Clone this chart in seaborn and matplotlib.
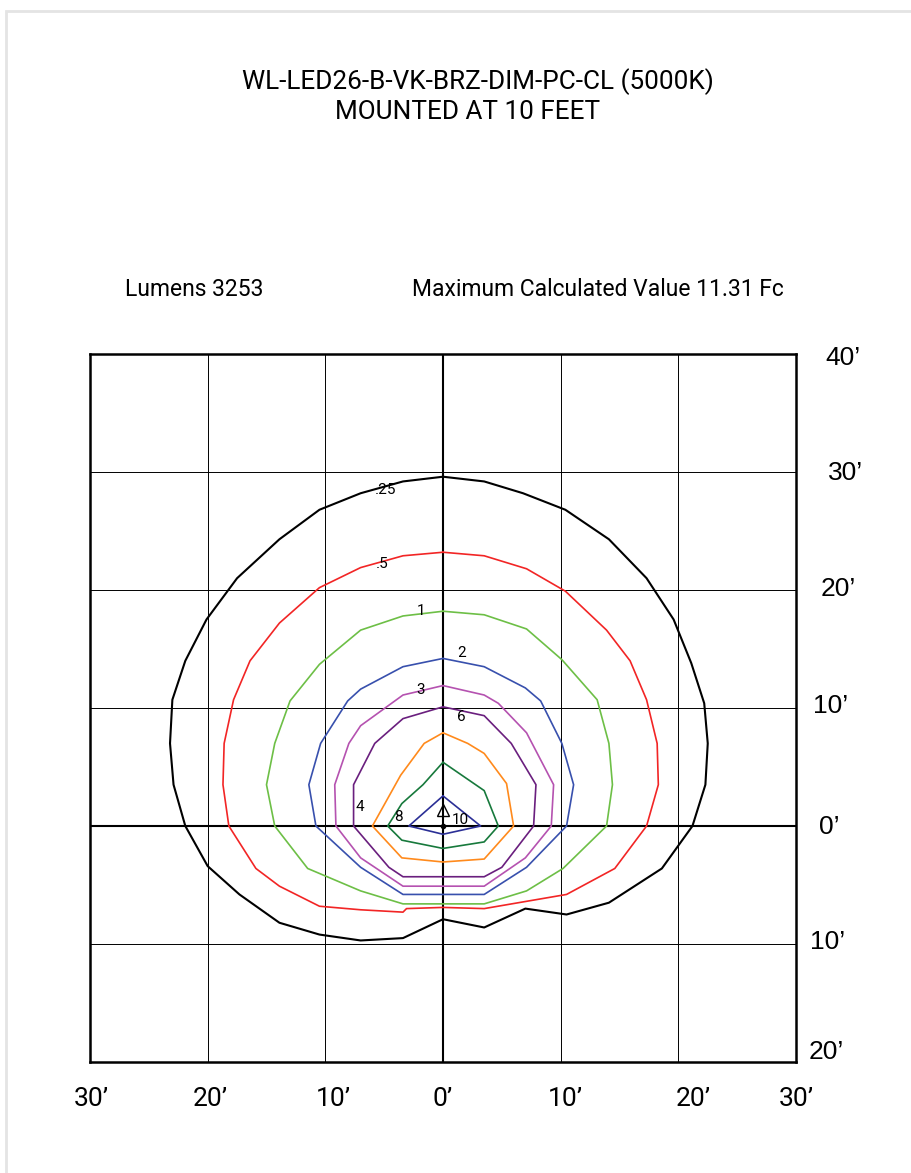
import numpy as np
import pandas as pd
import matplotlib
matplotlib.use("Agg")
import matplotlib.pyplot as plt
import matplotlib.patches as mpatches
import seaborn as sns

sns.set_style("white")
plt.rcParams['font.family'] = ['Roboto', 'DejaVu Sans']
plt.rcParams['text.color'] = 'black'

# ---------------- data ----------------
title_lines = ["WL-LED26-B-VK-BRZ-DIM-PC-CL (5000K)", "MOUNTED AT 10 FEET"]
lumens_text = "Lumens 3253"
max_text = "Maximum Calculated Value 11.31 Fc"

levels = ["0.25", "0.5", "1", "2", "3", "4", "6", "8", "10"]
level_labels = [".25", ".5", "1", "2", "3", "4", "6", "8", "10"]

iso_025_x = [0, 3.5, 6.8, 10.4, 14.1, 17.3, 19.6, 21.1, 22.2, 22.5, 22.3, 21.2, 18.6, 14.1,
             10.5, 7.0, 3.5, 0, -3.4, -7.0, -10.5, -13.9, -17.3, -20.0, -21.9, -22.9, -23.2,
             -23.0, -21.9, -20.1, -17.5, -13.9, -10.5, -7.0, -3.4]
iso_025_y = [29.6, 29.2, 28.2, 26.8, 24.3, 21.0, 17.5, 13.8, 10.4, 7.0, 3.5, 0.0, -3.6, -6.5,
             -7.5, -7.0, -8.6, -7.9, -9.5, -9.7, -9.2, -8.2, -5.8, -3.4, 0.0, 3.5, 7.0,
             10.7, 14.0, 17.5, 21.0, 24.3, 26.8, 28.2, 29.2]

iso_05_x = [0, 3.5, 7.1, 10.4, 13.9, 15.9, 17.3, 18.2, 18.3, 17.3, 14.6, 10.5, 7.0, 3.5, 0,
            -3.1, -3.4, -7.0, -10.5, -13.9, -15.9, -18.2, -18.7, -18.6, -17.8, -16.4, -13.9,
            -10.5, -7.0, -3.4]
iso_05_y = [23.2, 22.9, 21.8, 19.9, 16.6, 14.0, 10.7, 7.0, 3.5, 0.0, -3.6, -5.8, -6.4, -7.0,
            -6.9, -7.0, -7.3, -7.1, -6.8, -5.1, -3.6, 0.0, 3.5, 7.0, 10.7, 14.0, 17.2,
            20.2, 21.9, 22.9]

iso_1_x = [0, 3.5, 7.1, 10.1, 13.1, 14.1, 14.4, 13.9, 10.2, 7.1, 3.5, 0, -3.4, -7.0, -11.5,
           -14.3, -15.0, -14.3, -13.0, -10.5, -7.0, -3.4]
iso_1_y = [18.2, 17.9, 16.7, 14.1, 10.7, 7.0, 3.5, 0.0, -3.6, -5.5, -6.6, -6.6, -6.6, -5.5, -3.6,
           0.0, 3.5, 7.0, 10.6, 13.7, 16.6, 17.8]

iso_2_x = [0, 3.5, 7.0, 8.3, 10.1, 11.1, 10.5, 7.1, 3.5, 0, -3.4, -7.0, -10.8, -11.4, -10.4,
           -8.1, -7.0, -3.4]
iso_2_y = [14.2, 13.5, 11.7, 10.6, 7.0, 3.5, 0.0, -3.5, -5.8, -5.8, -5.8, -3.5, 0.0, 3.5, 7.0,
           10.6, 11.6, 13.5]

iso_3_x = [0, 3.5, 4.7, 7.1, 9.4, 9.2, 7.0, 3.5, 0, -3.4, -7.0, -9.1, -9.2, -8.0, -7.0, -3.4]
iso_3_y = [11.9, 11.1, 10.4, 7.9, 3.5, 0.0, -2.7, -5.1, -5.1, -5.1, -2.7, 0.0, 3.5, 7.0, 8.5, 11.1]

iso_4_x = [0, 3.5, 5.8, 7.9, 7.7, 5.0, 3.5, 0, -3.4, -4.6, -7.6, -7.6, -5.8, -3.4]
iso_4_y = [10.1, 9.35, 7.0, 3.5, 0.0, -3.5, -4.3, -4.3, -4.3, -3.5, 0.0, 3.5, 7.0, 9.1]

iso_6_x = [0, 2.1, 3.5, 5.4, 6.0, 3.5, 0, -3.5, -6.0, -3.6, -1.6]
iso_6_y = [7.9, 7.0, 6.15, 3.6, 0.0, -2.8, -3.05, -2.7, 0.0, 4.3, 7.0]

iso_8_x = [0, 3.5, 4.7, 3.5, 0, -3.5, -4.7, -3.5, -1.7]
iso_8_y = [5.4, 3.0, 0.0, -1.35, -1.9, -1.2, 0.0, 1.9, 3.5]

iso_10_x = [0, 3.2, 0, -2.9]
iso_10_y = [2.55, 0.0, -0.7, 0.0]

label_x = [-4.85, -5.2, -1.9, 1.55, -1.9, -7.1, 1.55, -3.75, 1.5]
label_y = [28.5, 22.2, 18.2, 14.65, 11.55, 1.6, 9.25, 0.75, 0.5]

bottom_tick_values = [-30, -20, -10, 0, 10, 20, 30]
bottom_tick_labels = ["30’", "20’", "10’", "0’", "10’", "20’", "30’"]
right_tick_values = [40, 30, 20, 10, 0, -10, -20]
right_tick_labels = ["40’", "30’", "20’", "10’", "0’", "10’", "20’"]

# ---------------- build frame ----------------
xs = [iso_025_x, iso_05_x, iso_1_x, iso_2_x, iso_3_x, iso_4_x, iso_6_x, iso_8_x, iso_10_x]
ys = [iso_025_y, iso_05_y, iso_1_y, iso_2_y, iso_3_y, iso_4_y, iso_6_y, iso_8_y, iso_10_y]
frames = []
for lev, xx, yy in zip(levels, xs, ys):
    xx = list(xx) + [xx[0]]
    yy = list(yy) + [yy[0]]
    frames.append(pd.DataFrame({"x": xx, "y": yy, "level": lev, "order": range(len(xx))}))
df = pd.concat(frames, ignore_index=True)

colors = {"0.25": "#000000", "0.5": "#f22525", "1": "#6dbf46", "2": "#3850ad",
          "3": "#b552b0", "4": "#6a1f7e", "6": "#ff8a1c", "8": "#17793c", "10": "#2b2f96"}
widths = {"0.25": 1.5, "0.5": 1.2, "1": 1.2, "2": 1.2, "3": 1.2, "4": 1.2, "6": 1.2,
          "8": 1.2, "10": 1.2}

fig = plt.figure(figsize=(9.11, 11.73), dpi=100)
ax = fig.add_axes([90/911, 1-1062/1173, (796-90)/911, (1062-354)/1173])

# grid
for gx in range(-20, 30, 10):
    ax.axvline(gx, color="black", lw=0.7 if gx != 0 else 1.5, zorder=1)
for gy in range(-10, 40, 10):
    ax.axhline(gy, color="black", lw=0.7 if gy != 0 else 1.5, zorder=1)

for lev in levels:
    sub = df[df["level"] == lev]
    sns.lineplot(data=sub, x="x", y="y", sort=False, estimator=None, color=colors[lev],
                 lw=widths[lev], ax=ax, zorder=3, legend=False)

for lab, lx, ly in zip(level_labels, label_x, label_y):
    ax.text(lx, ly, lab, fontsize=11, ha="center", va="center", color="black", zorder=4,
            family=["Roboto", "DejaVu Sans"])

# luminaire marker
ax.plot([0], [1.35], marker="^", ms=9, mfc="none", mec="black", mew=1.0, zorder=5)
ax.plot([0], [0], marker="o", ms=3, color="black", zorder=5)

ax.set_xlim(-30, 30)
ax.set_ylim(-20, 40)
ax.set_xticks([])
ax.set_yticks([])
ax.set_xlabel("")
ax.set_ylabel("")
for sp in ax.spines.values():
    sp.set_visible(True)
    sp.set_color("black")
    sp.set_linewidth(1.8)

# bottom labels
bottom_pos = [-29.9, -19.8, -9.35, 0, 10.4, 21.3, 30.0]
for v, lab, px in zip(bottom_tick_values, bottom_tick_labels, bottom_pos):
    ax.text(px, -23.1, lab, fontsize=19, ha="center", va="center", clip_on=False,
            color="black", family=["Roboto", "DejaVu Sans"])

# right labels
right_pos_x = [34.0, 34.25, 33.6, 32.9, 32.8, 32.7, 32.55]
right_pos_y = [39.7, 29.9, 20.1, 10.2, -0.05, -9.8, -19.15]
for lab, px, py in zip(right_tick_labels, right_pos_x, right_pos_y):
    ax.text(px, py, lab, fontsize=19, ha="center", va="center", clip_on=False,
            color="black", family=["Liberation Sans", "DejaVu Sans"])

# titles
fig.text(478/911, 1-82/1173, title_lines[0], fontsize=18.8, ha="center", va="center", color="black")
fig.text(468/911, 1-112/1173, title_lines[1], fontsize=18.8, ha="center", va="center", color="black")
fig.text(125/911, 1-289/1173, lumens_text, fontsize=16.5, ha="left", va="center", color="black")
fig.text(412/911, 1-289/1173, max_text, fontsize=16.5, ha="left", va="center", color="black")

# light page border
fig.add_artist(mpatches.Rectangle((6/911, -0.1), 1.2, 1 - 11/1173 + 0.1, transform=fig.transFigure,
                                  fill=False, edgecolor="#e4e4e4", lw=2.0))

fig.savefig("out.png", dpi=100)
